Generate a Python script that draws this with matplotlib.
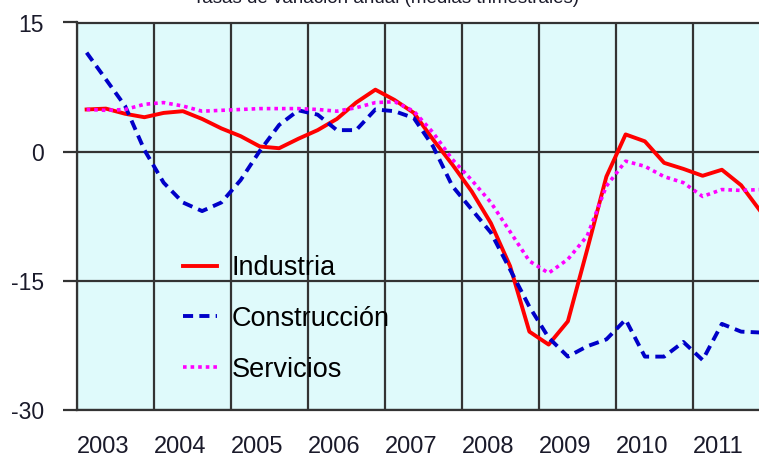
import numpy as np
import matplotlib
matplotlib.use("Agg")
import matplotlib.pyplot as plt

plt.rcParams["font.family"] = ["Liberation Sans", "DejaVu Sans"]
plt.rcParams["axes.unicode_minus"] = False

# quarterly data, 2003Q1 .. 2011Q4
years = list(range(2003, 2012))
industria = [4.9, 5.0, 4.4, 4.0,
             4.5, 4.7, 3.8, 2.7,
             1.8, 0.6, 0.4, 1.5,
             2.5, 3.8, 5.7, 7.2,
             6.0, 4.5, 1.4, -1.5,
             -4.6, -8.3, -13.3, -20.9,
             -22.4, -19.7, -11.4, -2.9,
             2.0, 1.2, -1.3, -2.0,
             -2.8, -2.1, -3.9, -6.9]
construccion = [11.5, 8.4, 5.3, 0.2,
                -3.6, -5.9, -6.9, -5.9,
                -3.3, 0.1, 3.1, 4.8,
                4.3, 2.5, 2.5, 4.9,
                4.7, 3.9, 0.6, -4.0,
                -6.7, -9.4, -13.7, -18.0,
                -21.6, -23.8, -22.6, -21.8,
                -19.5, -23.8, -23.8, -22.1,
                -24.2, -20.0, -20.9, -21.0]
servicios = [4.9, 4.8, 4.9, 5.5,
             5.7, 5.3, 4.7, 4.8,
             4.9, 5.0, 5.0, 5.0,
             4.9, 4.7, 5.1, 5.7,
             5.8, 4.7, 2.2, -0.9,
             -3.3, -5.9, -9.3, -12.7,
             -14.1, -12.5, -9.8, -4.0,
             -1.1, -1.7, -2.9, -3.6,
             -5.2, -4.4, -4.5, -4.4]
yticks = [-30, -15, 0, 15]

x = years[0] + (np.arange(len(industria)) + 0.5) / 4

W, H = 759, 457
fig = plt.figure(figsize=(W / 100, H / 100), dpi=100)
ax = fig.add_axes([77 / W, (H - 410) / H, 682 / W, 387.5 / H])
ax.set_facecolor("#dffafb")

grid_c = "#333333"
ax.plot(x, industria, color="#ff0000", lw=2.8, label="Industria", zorder=3)
ax.plot(x, construccion, color="#0000c8", lw=2.8, linestyle=(0, (2.6, 1.6)),
        label="Construcción", zorder=3)
ax.plot(x, servicios, color="#ff00ff", lw=2.6, linestyle=(0, (1, 1.1)),
        label="Servicios", zorder=3)

ax.set_xlim(2003, 2003 + 682 / 77)
ax.set_ylim(-30, 15)
ax.set_yticks(yticks)
ax.set_xticks(years)
ax.set_xticklabels([str(y) for y in years], ha="left")

ax.grid(True, color=grid_c, lw=1.6)
ax.set_axisbelow(True)
ax.tick_params(axis="y", length=10, width=1.6, color=grid_c, pad=14,
               labelsize=16.5, labelcolor="#1a1a2a")
ax.tick_params(axis="x", length=0, pad=19, labelsize=17, labelcolor="#1a1a2a")
for s in ["top", "bottom", "left"]:
    ax.spines[s].set_color(grid_c)
    ax.spines[s].set_linewidth(1.6)
ax.spines["right"].set_visible(False)

ax.legend(loc="upper left", bbox_to_anchor=((183 - 77) / 682, (410 - 255) / 387.5),
          frameon=False, fontsize=19.5, handlelength=1.25, handletextpad=0.55,
          labelspacing=0.92, borderpad=0, borderaxespad=0)

fig.text(386 / W, 1 - 3 / H, "Tasas de variación anual (medias trimestrales)",
         ha="center", va="baseline", fontsize=13.5, color="#1a1a2a")

fig.savefig("out.png", dpi=100)
